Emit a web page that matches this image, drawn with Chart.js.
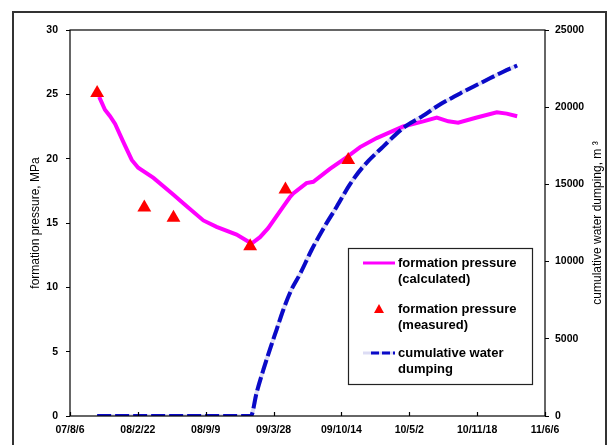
<!DOCTYPE html>
<html>
<head>
<meta charset="utf-8">
<script src="https://cdn.jsdelivr.net/npm/chart.js@4"></script>
<style>
  body { margin: 0; background: #fff; }
  canvas { display: block; }
</style>
</head>
<body>
<canvas id="grafico" width="608" height="445"></canvas>
<script>
// days counted from 07/8/6
const tickLabels = ['07/8/6', '08/2/22', '08/9/9', '09/3/28', '09/10/14', '10/5/2', '10/11/18', '11/6/6'];

const calcDays = [86, 103, 118, 133, 157, 182, 201, 246, 305, 344, 393, 432, 491, 535, 560, 584, 629, 648, 658, 697, 717, 766, 815, 855, 904, 982, 1041, 1081, 1115, 1144, 1199, 1258, 1287, 1318];
const calcPressure = [24.8, 23.8, 23.3, 22.7, 21.3, 19.9, 19.3, 18.5, 17.2, 16.3, 15.2, 14.7, 14.1, 13.4, 13.9, 14.6, 16.3, 17.0, 17.3, 18.1, 18.2, 19.2, 20.1, 20.9, 21.6, 22.5, 22.9, 23.2, 22.9, 22.8, 23.2, 23.6, 23.5, 23.3];

const measDays = [80, 219, 305, 531, 635, 820];
const measPressure = [25.1, 16.2, 15.4, 13.2, 17.6, 19.9];

const waterDays = [80, 533, 550, 570, 589, 609, 629, 653, 678, 712, 747, 786, 825, 864, 923, 982, 1041, 1081, 1159, 1218, 1277, 1318];
const waterVolume = [0, 0, 1500, 3000, 4300, 5600, 6900, 8200, 9200, 10750, 12150, 13550, 15000, 16150, 17450, 18650, 19450, 20050, 21000, 21650, 22300, 22700];

const toXY = (xs, ys) => xs.map((x, i) => ({ x: x, y: ys[i] }));

const tickFont = { family: 'Liberation Sans, Arial, sans-serif', size: 10.5, weight: 'bold' };
const azulAgua = '#0a0ac8';
const lavanda = '#dcdcf4';

// ejes, titulos y leyenda dibujados a mano
const marco = {
  id: 'marco',
  beforeDraw(chart) {
    const ctx = chart.ctx;
    ctx.save();
    ctx.fillStyle = '#fff';
    ctx.fillRect(0, 0, chart.width, chart.height);
    ctx.strokeStyle = '#333';
    ctx.lineWidth = 2;
    ctx.strokeRect(13, 12, 593, 450);
    ctx.restore();
  },
  afterDraw(chart) {
    const ctx = chart.ctx;
    const a = chart.chartArea;
    ctx.save();
    // caja del area de grafico
    ctx.strokeStyle = '#000';
    ctx.lineWidth = 1.2;
    ctx.strokeRect(a.left, a.top, a.right - a.left, a.bottom - a.top);
    // marcas del eje x hacia adentro
    const sx = chart.scales.x;
    sx.ticks.forEach(t => {
      const px = Math.round(sx.getPixelForValue(t.value)) + 0.5;
      ctx.beginPath();
      ctx.moveTo(px, a.bottom);
      ctx.lineTo(px, a.bottom - 4);
      ctx.stroke();
    });
    // titulos de los ejes
    ctx.fillStyle = '#000';
    ctx.font = '12px "Liberation Sans", Arial, sans-serif';
    ctx.textAlign = 'center';
    ctx.textBaseline = 'middle';
    const midY = (a.top + a.bottom) / 2;
    ctx.save();
    ctx.translate(36, midY);
    ctx.rotate(-Math.PI / 2);
    ctx.fillText('formation pressure, MPa', 0, 0);
    ctx.restore();
    ctx.save();
    ctx.translate(598, midY);
    ctx.rotate(-Math.PI / 2);
    ctx.fillText('cumulative water dumping, m ³', 0, 0);
    ctx.restore();

    // leyenda
    const box = { x: 348, y: 248, w: 184, h: 136 };
    ctx.fillStyle = '#fff';
    ctx.fillRect(box.x, box.y, box.w, box.h);
    ctx.strokeStyle = '#222';
    ctx.lineWidth = 1.2;
    ctx.strokeRect(box.x + 0.5, box.y + 0.5, box.w, box.h);
    ctx.font = 'bold 13px "Liberation Sans", Arial, sans-serif';
    ctx.textAlign = 'left';
    const filas = [263, 309, 353];
    const sets = [chart.data.datasets[0], chart.data.datasets[1], chart.data.datasets[2]];
    sets.forEach((ds, i) => {
      const y = filas[i];
      if (i === 0) {
        ctx.strokeStyle = ds.borderColor;
        ctx.lineWidth = 3;
        ctx.beginPath(); ctx.moveTo(363, y); ctx.lineTo(395, y); ctx.stroke();
      } else if (i === 1) {
        ctx.fillStyle = ds.backgroundColor;
        ctx.beginPath();
        ctx.moveTo(379, y - 5); ctx.lineTo(384, y + 4); ctx.lineTo(374, y + 4);
        ctx.closePath(); ctx.fill();
      } else {
        ctx.lineWidth = 3;
        ctx.strokeStyle = lavanda;
        ctx.beginPath(); ctx.moveTo(363, y); ctx.lineTo(395, y); ctx.stroke();
        ctx.strokeStyle = ds.borderColor;
        ctx.setLineDash([8, 3]);
        ctx.beginPath(); ctx.moveTo(371, y); ctx.lineTo(395, y); ctx.stroke();
        ctx.setLineDash([]);
      }
      ctx.fillStyle = '#000';
      ds.label.split('\n').forEach((linea, j) => ctx.fillText(linea, 398, y + j * 16));
    });
    ctx.restore();
  }
};

new Chart(document.getElementById('grafico'), {
  type: 'line',
  data: {
    datasets: [
      {
        label: 'formation pressure\n(calculated)',
        data: toXY(calcDays, calcPressure),
        borderColor: '#ff00ff',
        backgroundColor: '#ff00ff',
        borderWidth: 4,
        pointRadius: 0,
        tension: 0,
        yAxisID: 'y',
        order: 2,
      },
      {
        label: 'formation pressure\n(measured)',
        data: toXY(measDays, measPressure),
        showLine: false,
        pointStyle: 'triangle',
        pointRadius: 8,
        backgroundColor: '#ff0000',
        borderColor: '#ff0000',
        borderWidth: 0,
        yAxisID: 'y',
        order: 0,
      },
      {
        label: 'cumulative water\ndumping',
        data: toXY(waterDays, waterVolume),
        borderColor: azulAgua,
        borderWidth: 4,
        borderDash: [14, 4],
        pointRadius: 0,
        cubicInterpolationMode: 'monotone',
        yAxisID: 'y1',
        order: 1,
      },
      {
        // fondo claro de la linea discontinua
        label: '',
        data: toXY(waterDays, waterVolume),
        borderColor: lavanda,
        borderWidth: 4,
        pointRadius: 0,
        cubicInterpolationMode: 'monotone',
        yAxisID: 'y1',
        order: 3,
      },
    ],
  },
  options: {
    responsive: false,
    devicePixelRatio: 1,
    animation: false,
    layout: { padding: { top: 30, left: 0, right: 0, bottom: 0 } },
    plugins: { legend: { display: false }, tooltip: { enabled: false } },
    scales: {
      x: {
        type: 'linear',
        min: 0,
        max: 1400,
        ticks: {
          stepSize: 200,
          font: tickFont,
          color: '#000',
          padding: 8,
          maxRotation: 0,
          callback: function (value) {
            return tickLabels[value / 200];
          },
        },
        grid: { display: false, drawTicks: false },
        border: { display: false },
        afterFit: function (scale) { scale.height = 29; },
      },
      y: {
        position: 'left',
        min: 0,
        max: 30,
        ticks: { stepSize: 5, font: tickFont, color: '#000', padding: 8 },
        grid: { drawOnChartArea: false, tickLength: 4, color: '#000' },
        border: { display: false },
        afterFit: function (scale) { scale.width = 70; },
      },
      y1: {
        position: 'right',
        min: 0,
        max: 25000,
        ticks: {
          stepSize: 5000,
          font: tickFont,
          color: '#000',
          padding: 6,
          callback: function (value) {
            return String(value);
          },
        },
        grid: { drawOnChartArea: false, tickLength: 4, color: '#000' },
        border: { display: false },
        afterFit: function (scale) { scale.width = 63; },
      },
    },
  },
  plugins: [marco],
});
</script>
</body>
</html>
